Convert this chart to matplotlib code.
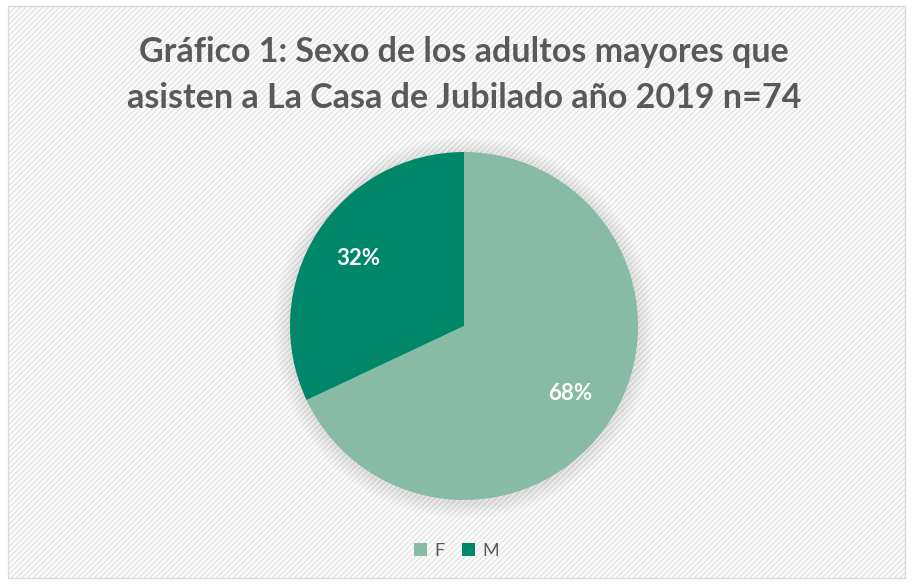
import matplotlib
matplotlib.use("Agg")
import numpy as np
import matplotlib.pyplot as plt
from matplotlib.patches import Rectangle, Circle

categorias = ["F", "M"]
porcentajes = [68, 32]
colores = ["#88BBA6", "#00876A"]
titulo = "Gráfico 1: Sexo de los adultos mayores que\nasisten a La Casa de Jubilado año 2019 n=74"

plt.rcParams["font.family"] = ["Lato", "DejaVu Sans"]
plt.rcParams["hatch.color"] = "#EEEEEE"
plt.rcParams["hatch.linewidth"] = 0.6

fig = plt.figure(figsize=(9.13, 5.85), dpi=100)
fig.patch.set_facecolor("white")

# fondo con rayado suave y borde
fondo = Rectangle((8 / 913, 7 / 585), 897 / 913, 572 / 585, transform=fig.transFigure,
                  facecolor="#FBFBFB", edgecolor="#D9D9D9", linewidth=1.0,
                  hatch="//////", zorder=-5)
fig.patches.append(fondo)

fig.text(0.508, 1 - 75 / 585, titulo, ha="center", va="center", fontsize=24.5,
         fontweight="bold", color="#595959", linespacing=1.55)

# eje cuadrado para la torta
r_px = 174
cx, cy = 464, 326
ax = fig.add_axes([(cx - r_px - 20) / 913, 1 - (cy + r_px + 20) / 585,
                   2 * (r_px + 20) / 913, 2 * (r_px + 20) / 585])
ax.set_zorder(2)
ax.patch.set_visible(False)
lim = (r_px + 20) / r_px
ax.axis("off")

# sombra suave
for i in range(8):
    ax.add_patch(Circle((0, -0.01), 1.0 + 0.012 * (i + 1), color="black",
                        alpha=0.012, zorder=0, linewidth=0))

wedges, _ = ax.pie(porcentajes, colors=colores, startangle=90, counterclock=False,
                   radius=1.0, wedgeprops=dict(linewidth=0))
ax.set_xlim(-lim, lim)
ax.set_ylim(-lim, lim)
for w, p in zip(wedges, porcentajes):
    ang = np.deg2rad((w.theta1 + w.theta2) / 2)
    ax.text(0.72 * np.cos(ang), 0.72 * np.sin(ang), f"{p}%", ha="center", va="center",
            color="white", fontsize=16, fontweight="bold")

fig.legend(wedges, categorias, loc="center", bbox_to_anchor=(0.5, 1 - 551 / 585),
           ncol=2, frameon=False, fontsize=13, handlelength=0.7, handleheight=0.7,
           handletextpad=0.4, columnspacing=1.0, labelcolor="#595959")

fig.savefig("out.png", dpi=100, facecolor=fig.get_facecolor())
